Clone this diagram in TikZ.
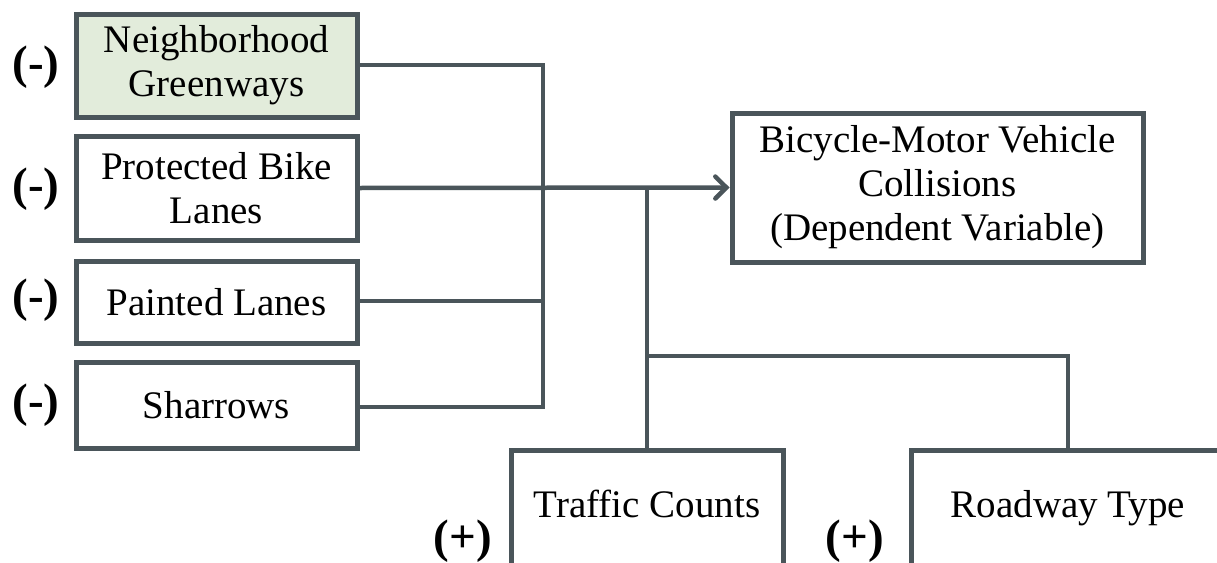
\documentclass[tikz,border=0pt]{standalone}
\usepackage{fontspec}
\setmainfont{Liberation Serif}
\usetikzlibrary{arrows.meta}
\definecolor{lc}{HTML}{4A555A}
\definecolor{gfill}{HTML}{E2ECDB}
\begin{document}
\begin{tikzpicture}[x=1pt,y=-1pt,
  box/.style={draw=lc,line width=5pt,fill=white,inner sep=0pt,align=center,
    font=\fontsize{39}{44}\selectfont,text=black},
  conn/.style={draw=lc,line width=4.5pt},
  sign/.style={font=\fontsize{47}{50}\selectfont\bfseries,text=black,inner sep=0pt}]
\useasboundingbox (0,0) rectangle (1217,562);
\clip (0,0) rectangle (1217,562);
% left boxes
\node[box,fill=gfill,minimum width=281pt,minimum height=103pt] (g) at (216.5,65.5) {Neighborhood\\Greenways};
\node[box,minimum width=281pt,minimum height=104pt] (p) at (216.5,188) {Protected Bike\\Lanes};
\node[box,minimum width=281pt,minimum height=82pt] (pl) at (216.5,302) {Painted Lanes};
\node[box,minimum width=281pt,minimum height=86pt] (s) at (216.5,405) {Sharrows};
% dependent
\node[box,minimum width=411pt,minimum height=149pt] (c) at (937.5,187.5) {Bicycle-Motor Vehicle\\Collisions\\(Dependent Variable)};
% bottom boxes
\node[box,minimum width=272pt,minimum height=120pt] (t) at (647,510) {\raisebox{12pt}{Traffic Counts}};
\node[box,minimum width=314pt,minimum height=120pt] (r) at (1068,510) {\raisebox{12pt}{Roadway Type}};
% signs
\node[sign] (sg) at (36,67) {(-)};
\node[sign] (sp) at (36,189) {(-)};
\node[sign] (spl) at (36,300) {(-)};
\node[sign] (ss) at (36,405) {(-)};
\node[sign] (st) at (463,541) {(+)};
\node[sign] (sr) at (855,541) {(+)};
% connectors
\coordinate (bt) at (543,65);
\coordinate (bb) at (543,407);
\coordinate (j) at (647,188);
\coordinate (k) at (647,356);
\draw[conn,line join=miter] (g.east |- bt) -- (bt) -- (bb) -- (s.east |- bb);
\draw[conn] (pl.east |- 0,301) -- (543,301);
\draw[conn,-{Straight Barb[length=11pt,width=22pt,line cap=round]}] (p.east) -- (c.west);
\draw[conn] (j) -- (t.north);
\draw[conn,line join=miter] (k) -- (k -| r.north) -- (r.north);
\end{tikzpicture}
\end{document}
